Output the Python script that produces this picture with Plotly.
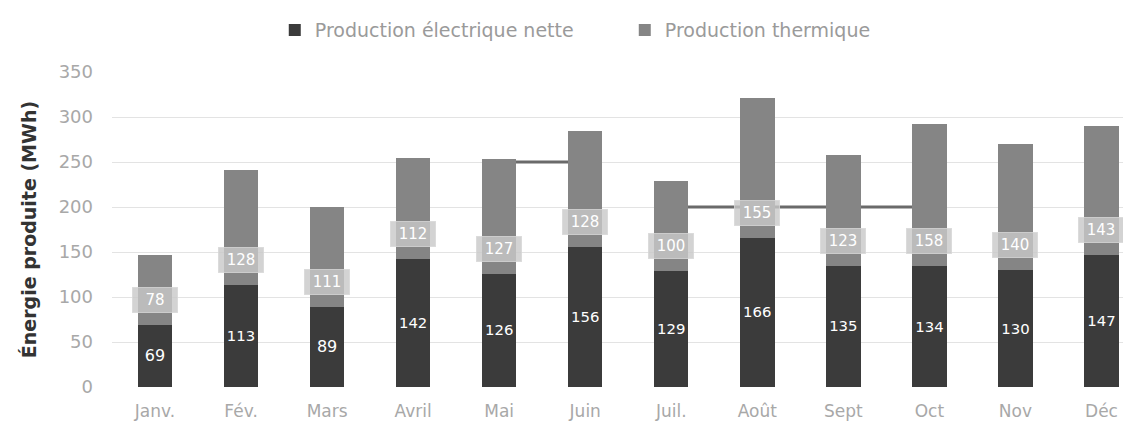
import plotly.graph_objects as go

# Monthly energy output, MWh
mois = ["Janv.", "Fév.", "Mars", "Avril", "Mai", "Juin",
        "Juil.", "Août", "Sept", "Oct", "Nov", "Déc"]
electrique = [69, 113, 89, 142, 126, 156, 129, 166, 135, 134, 130, 147]
thermique = [78, 128, 111, 112, 127, 128, 100, 155, 123, 158, 140, 143]

# Horizontal level segments: (from month, to month, value)
paliers = [("Mai", "Juin", 250), ("Juil.", "Oct", 200)]

y_ticks = [0, 50, 100, 150, 200, 250, 300, 350]

c_elec = "#3b3b3b"
c_therm = "#858585"
c_text = "#a8a8a8"
font_family = "DejaVu Sans"

fig = go.Figure()

fig.add_trace(go.Bar(
    x=mois, y=electrique, name="Production électrique nette",
    marker=dict(color=c_elec, line=dict(width=0)),
    text=electrique, textposition="inside", insidetextanchor="middle",
    textfont=dict(color="white", size=16, family=font_family),
    textangle=0,
))
fig.add_trace(go.Bar(
    x=mois, y=thermique, name="Production thermique",
    marker=dict(color=c_therm, line=dict(width=0)),
    hoverinfo="y",
))

# Boxed labels near the base of each thermal segment
for m, e, t in zip(mois, electrique, thermique):
    fig.add_annotation(
        x=m, y=e, yref="y", xref="x", text=str(t), showarrow=False,
        yanchor="middle", yshift=25,
        font=dict(color="white", size=15, family=font_family),
        bgcolor="rgba(200,200,200,0.8)", bordercolor="rgba(215,215,215,0.8)",
        borderwidth=1, borderpad=3, width=38,
    )

for m0, m1, v in paliers:
    fig.add_shape(
        type="line", xref="x", yref="y",
        x0=mois.index(m0), x1=mois.index(m1), y0=v, y1=v,
        line=dict(color="#6a6a6a", width=3), layer="between",
    )

fig.update_layout(
    width=1123, height=425,
    margin=dict(l=112, r=0, t=72, b=38),
    barmode="stack", bargap=0.6,
    plot_bgcolor="white", paper_bgcolor="white",
    font=dict(family=font_family, color=c_text),
    showlegend=True,
    legend=dict(
        orientation="h", x=0.161, xanchor="left", y=1.133, yanchor="middle",
        font=dict(size=19, color="#9a9a9a", family=font_family),
        itemsizing="constant", traceorder="normal", entrywidth=305,
    ),
    xaxis=dict(
        range=[-0.5, 11.25], showgrid=False, showline=False, zeroline=False,
        tickfont=dict(size=17, color=c_text), ticks="", ticklabelstandoff=12,
    ),
    yaxis=dict(
        range=[0, 350], tickvals=y_ticks, showgrid=True, gridcolor="#e3e3e3",
        gridwidth=1, zeroline=False, showline=False,
        tickfont=dict(size=18, color=c_text), ticks="", ticklabelstandoff=18,
        title=dict(text="Énergie produite (MWh)", standoff=16,
                   font=dict(size=19, color="#333333", family=font_family,
                             weight="bold")),
    ),
)

fig.write_html("out.html")
